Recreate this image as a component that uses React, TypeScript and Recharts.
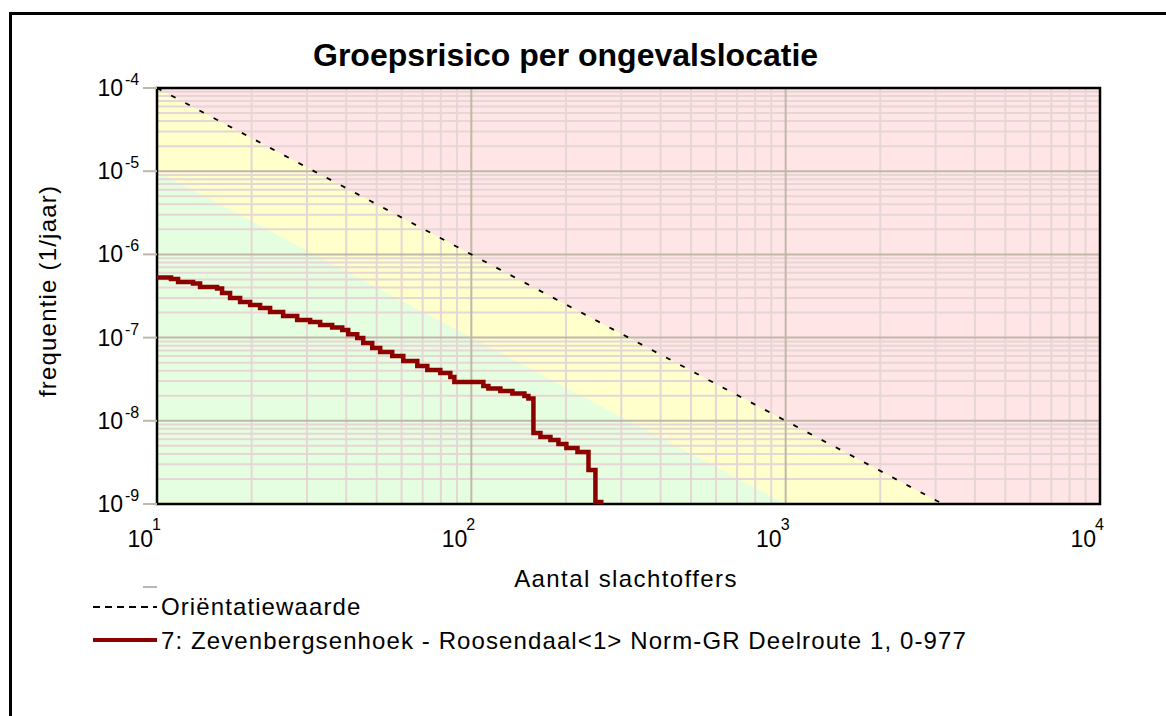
import React from 'react';
import { ComposedChart, Line, Area, XAxis, YAxis } from 'recharts';

// ---- data ----
const stepN = [10, 11.08, 11.67, 13.02, 13.71, 15.53, 16.11, 17.08, 18.38, 19.78, 21.28, 22.9, 25.19, 27.92, 30.71, 33.04, 36.08, 38.84, 40.58, 43.35, 45.3, 48.38, 51.3, 56.02, 60.74, 67.31, 72.43, 79.68, 85.75, 88.3, 109.2, 113.3, 123.7, 135.1, 147.5, 151.9, 157.6, 165.9, 178.5, 189.3, 200.6, 217.6, 235.9, 248.2, 263.3];
const stepF = [5.28e-7, 5.06e-7, 4.66e-7, 4.47e-7, 4.06e-7, 3.89e-7, 3.44e-7, 2.99e-7, 2.68e-7, 2.46e-7, 2.27e-7, 2.03e-7, 1.82e-7, 1.63e-7, 1.54e-7, 1.42e-7, 1.32e-7, 1.23e-7, 1.1e-7, 9.89e-8, 8.61e-8, 7.5e-8, 6.71e-8, 6.01e-8, 5.23e-8, 4.56e-8, 4.08e-8, 3.75e-8, 3.36e-8, 2.93e-8, 2.62e-8, 2.44e-8, 2.28e-8, 2.13e-8, 1.99e-8, 1.85e-8, 7.13e-9, 6.39e-9, 5.88e-9, 5.26e-9, 4.71e-9, 4.22e-9, 2.56e-9, 1.06e-9, 1.06e-9];

const orientN = [10, 3162.3];
const orientF = [1e-4, 1e-9];
const greenN = [10, 1000];
const greenF = [1e-5, 1e-9];

const xDomain = [10, 10000];
const yDomain = [1e-9, 1e-4];
const xMajorTicks = [10, 100, 1000, 10000];
const yMajorTicks = [1e-9, 1e-8, 1e-7, 1e-6, 1e-5, 1e-4];
const xDecades = [10, 100, 1000];
const yDecades = [1e-9, 1e-8, 1e-7, 1e-6, 1e-5];
const minorMult = [2, 3, 4, 5, 6, 7, 8, 9];

const titleText = 'Groepsrisico per ongevalslocatie';
const xTitle = 'Aantal slachtoffers';
const yTitle = 'frequentie (1/jaar)';
const legendOrient = 'Oriëntatiewaarde';
const legendSeries = '7: Zevenbergsenhoek - Roosendaal<1> Norm-GR Deelroute 1, 0-977';

// ---- colours ----
const PINK = '#FFE5E5';
const YELLOW = '#FFFFCC';
const GREEN = '#E6FEE0';
const MINOR = '#E6D6D6';
const MAJOR = '#C0B8A8';
const CURVE = '#8C0000';
const FONT = '"Liberation Sans", Arial, sans-serif';

const zip = (ns: number[], fs: number[]) => ns.map((n, i) => ({ N: n, f: fs[i] }));

const stepData = zip(stepN, stepF);
const orientData = zip(orientN, orientF);
const greenData = zip(greenN, greenF);
const pinkData = zip([xDomain[0], xDomain[1]], [yDomain[1], yDomain[1]]);

const xMinor = xDecades.flatMap((d) => minorMult.map((m) => d * m));
const yMinor = yDecades.flatMap((d) => minorMult.map((m) => d * m));
const xMajorInner = xMajorTicks.slice(1, -1);
const yMajorInner = yMajorTicks.slice(1, -1);

const borderData = [
  { N: xDomain[0], f: yDomain[0] },
  { N: xDomain[0], f: yDomain[1] },
  { N: xDomain[1], f: yDomain[1] },
  { N: xDomain[1], f: yDomain[0] },
  { N: xDomain[0], f: yDomain[0] },
];

const YTick = (props: any) => {
  const { x, y, payload } = props;
  const e = Math.round(Math.log10(payload.value));
  return (
    <g>
      <line x1={x - 14} x2={x} y1={y} y2={y} stroke={MAJOR} strokeWidth={2} />
      <text x={x - 34} y={y + 8} textAnchor="end" fontSize={23} fill="#000">10</text>
      <text x={x - 32} y={y - 3} textAnchor="start" fontSize={16} fill="#000">{String(e)}</text>
    </g>
  );
};

const XTick = (props: any) => {
  const { x, y, payload } = props;
  const e = Math.round(Math.log10(payload.value));
  return (
    <g>
      <text x={x - 4} y={y + 43} textAnchor="end" fontSize={23} fill="#000">10</text>
      <text x={x - 5} y={y + 26} textAnchor="start" fontSize={16} fill="#000">{String(e)}</text>
    </g>
  );
};

const gridLine = (key: string, data: any[], color: string, w: number) => (
  <Line
    key={key}
    data={data}
    dataKey="f"
    stroke={color}
    strokeWidth={w}
    dot={false}
    activeDot={false}
    isAnimationActive={false}
    legendType="none"
  />
);

export default function App() {
  return (
    <div
      style={{
        position: 'absolute',
        left: 0,
        top: 0,
        width: 1166,
        height: 716,
        background: '#fff',
        overflow: 'hidden',
        fontFamily: FONT,
      }}
    >
      <div
        style={{
          position: 'absolute',
          left: 9,
          top: 12,
          width: 1200,
          height: 800,
          borderLeft: '3px solid #000',
          borderTop: '3px solid #000',
        }}
      />
      <div style={{ position: 'absolute', left: 0, top: 0 }}>
        <ComposedChart width={1166} height={716} margin={{ top: 88, right: 66, bottom: 182, left: 0 }}>
          <XAxis
            dataKey="N"
            type="number"
            scale="log"
            domain={xDomain}
            ticks={xMajorTicks}
            interval={0}
            axisLine={false}
            tickLine={false}
            tickSize={0}
            tickMargin={0}
            height={30}
            tick={<XTick />}
          />
          <YAxis
            dataKey="f"
            type="number"
            scale="log"
            domain={yDomain}
            ticks={yMajorTicks}
            interval={0}
            axisLine={false}
            tickLine={false}
            tickSize={0}
            tickMargin={0}
            width={157}
            tick={<YTick />}
          />
          <Area data={pinkData} dataKey="f" type="linear" baseValue={yDomain[0]} fill={PINK} fillOpacity={1} stroke="none" isAnimationActive={false} legendType="none" dot={false} activeDot={false} />
          <Area data={orientData} dataKey="f" type="linear" baseValue={yDomain[0]} fill={YELLOW} fillOpacity={1} stroke="none" isAnimationActive={false} legendType="none" dot={false} activeDot={false} />
          <Area data={greenData} dataKey="f" type="linear" baseValue={yDomain[0]} fill={GREEN} fillOpacity={1} stroke="none" isAnimationActive={false} legendType="none" dot={false} activeDot={false} />
          {xMinor.map((v) => gridLine('xm' + v, [{ N: v, f: yDomain[0] }, { N: v, f: yDomain[1] }], MINOR, 2))}
          {yMinor.map((v) => gridLine('ym' + v, [{ N: xDomain[0], f: v }, { N: xDomain[1], f: v }], MINOR, 2))}
          {xMajorInner.map((v) => gridLine('xM' + v, [{ N: v, f: yDomain[0] }, { N: v, f: yDomain[1] }], MAJOR, 2))}
          {yMajorInner.map((v) => gridLine('yM' + v, [{ N: xDomain[0], f: v }, { N: xDomain[1], f: v }], MAJOR, 2))}
          <Line data={orientData} dataKey="f" type="linear" stroke="#000" strokeWidth={1.8} strokeDasharray="5 11" dot={false} activeDot={false} isAnimationActive={false} legendType="none" />
          <Line data={borderData} dataKey="f" type="linear" stroke="#000" strokeWidth={2.5} strokeLinecap="square" dot={false} activeDot={false} isAnimationActive={false} legendType="none" />
          <Line data={stepData} dataKey="f" type="stepAfter" stroke={CURVE} strokeWidth={4.5} dot={false} activeDot={false} isAnimationActive={false} legendType="none" />
        </ComposedChart>
      </div>
      <svg
        width={1166}
        height={716}
        style={{ position: 'absolute', left: 0, top: 0, pointerEvents: 'none', fontFamily: FONT }}
      >
        <text x={313} y={66} fontSize={32} fontWeight="bold" fill="#000">{titleText}</text>
        <text x={626} y={587} fontSize={24} letterSpacing={1.4} textAnchor="middle" fill="#000">{xTitle}</text>
        <text transform="translate(56,291) rotate(-90)" fontSize={24} letterSpacing={1.2} textAnchor="middle" fill="#000">{yTitle}</text>
        <line x1={143} x2={157} y1={587} y2={587} stroke="#B8B8B8" strokeWidth={2} />
        <line x1={93} x2={157} y1={607} y2={607} stroke="#000" strokeWidth={2} strokeDasharray="7 5" />
        <text x={161} y={615} fontSize={24} letterSpacing={1.1} fill="#000">{legendOrient}</text>
        <line x1={93} x2={157} y1={640} y2={640} stroke={CURVE} strokeWidth={4} />
        <text x={161} y={649} fontSize={24} letterSpacing={1.1} fill="#000">{legendSeries}</text>
      </svg>
    </div>
  );
}
